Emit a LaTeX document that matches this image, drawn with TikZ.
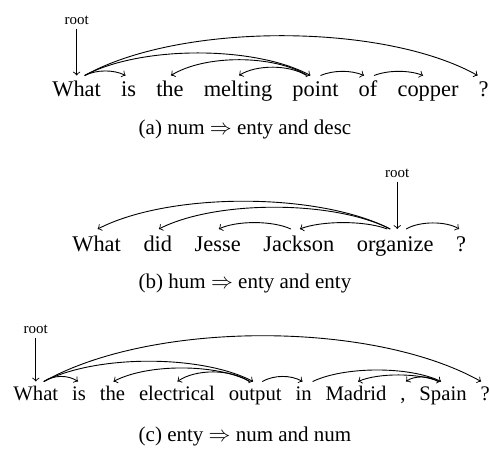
\documentclass[tikz,border=0pt]{standalone}
\usepackage{fontspec}
\setmainfont{Liberation Serif}
\begin{document}
\begin{tikzpicture}[x=0.5pt,y=-0.5pt,
  wa/.style={inner sep=0pt, anchor=base west, font=\fontsize{11.2}{13}\selectfont},
  wc/.style={inner sep=0pt, anchor=base west, font=\fontsize{10.35}{12}\selectfont},
  dep/.style={->, line width=0.45pt},
  rootlbl/.style={inner sep=0pt, anchor=base, font=\fontsize{7.5}{9}\selectfont},
  captxt/.style={inner sep=0pt, anchor=base, font=\fontsize{10.5}{12}\selectfont}]
\useasboundingbox (0,0) rectangle (490,450);

% ---------------- (a)
\node[wa] (a1) at (52,96.5) {What};
\node[wa] (a2) at ([xshift=9.7pt]a1.base east) {is};
\node[wa] (a3) at ([xshift=9.7pt]a2.base east) {the};
\node[wa] (a4) at ([xshift=9.7pt]a3.base east) {melting};
\node[wa] (a5) at ([xshift=9.7pt]a4.base east) {point};
\node[wa] (a6) at ([xshift=9.7pt]a5.base east) {of};
\node[wa] (a7) at ([xshift=9.7pt]a6.base east) {copper};
\node[wa] (a8) at ([xshift=9.7pt]a7.base east) {?};
\node[rootlbl] (ra) at ([shift={(0,-72.5)}]a1.base) {root};
\draw[dep] ([yshift=-2pt]ra.south) -- ([shift={(0,-21)}]a1.base);
\draw[dep] ([shift={(8,-21)}]a1.base) .. controls +(12,-6) and +(-12,-6) .. ([shift={(-3,-21)}]a2.base);
\draw[dep] ([shift={(8,-21)}]a1.base) .. controls +(56,-30) and +(-56,-30) .. ([shift={(-5,-21)}]a5.base);
\draw[dep] ([shift={(8,-21)}]a1.base) .. controls +(95,-53) and +(-95,-53) .. ([shift={(-6,-21)}]a8.base);
\draw[dep] ([shift={(-8,-21)}]a5.base) .. controls +(-34,-21) and +(34,-21) .. ([shift={(1,-21)}]a3.base);
\draw[dep] ([shift={(-9,-21)}]a5.base) .. controls +(-17,-11) and +(17,-11) .. ([shift={(1,-21)}]a4.base);
\draw[dep] ([shift={(5,-21)}]a5.base) .. controls +(13,-5.5) and +(-13,-5.5) .. ([shift={(-4,-21)}]a6.base);
\draw[dep] ([shift={(6,-21)}]a6.base) .. controls +(14,-5.5) and +(-14,-5.5) .. ([shift={(-5,-21)}]a7.base);
\node[captxt] (capa) at (245,134) {(a) num $\Rightarrow$ enty and desc};

% ---------------- (b)
\node[wa] (b1) at (72,251.5) {What};
\node[wa] (b2) at ([xshift=10.9pt]b1.base east) {did};
\node[wa] (b3) at ([xshift=10.9pt]b2.base east) {Jesse};
\node[wa] (b4) at ([xshift=10.9pt]b3.base east) {Jackson};
\node[wa] (b5) at ([xshift=10.9pt]b4.base east) {organize};
\node[wa] (b6) at ([xshift=10.9pt]b5.base east) {?};
\node[rootlbl] (rb) at ([shift={(2,-74.5)}]b5.base) {root};
\draw[dep] ([yshift=-2pt]rb.south) -- ([shift={(2,-22.5)}]b5.base);
\draw[dep] ([shift={(-5,-22.5)}]b5.base) .. controls +(-72,-37) and +(72,-37) .. ([shift={(1,-22.5)}]b1.base);
\draw[dep] ([shift={(-5,-22.5)}]b5.base) .. controls +(-57,-29) and +(57,-29) .. ([shift={(1,-22.5)}]b2.base);
\draw[dep] ([shift={(-8,-22.5)}]b4.base) .. controls +(-18,-8.5) and +(18,-8.5) .. ([shift={(1,-22.5)}]b3.base);
\draw[dep] ([shift={(-8,-22.5)}]b5.base) .. controls +(-22,-8.5) and +(22,-8.5) .. ([shift={(1,-22.5)}]b4.base);
\draw[dep] ([shift={(11,-22.5)}]b5.base) .. controls +(13,-8) and +(-13,-8) .. ([shift={(-2,-22.5)}]b6.base);
\node[captxt] (capb) at (245,288) {(b) hum $\Rightarrow$ enty and enty};

% ---------------- (c)
\node[wc] (c1) at (13,400.5) {What};
\node[wc] (c2) at ([xshift=6.55pt]c1.base east) {is};
\node[wc] (c3) at ([xshift=6.55pt]c2.base east) {the};
\node[wc] (c4) at ([xshift=6.55pt]c3.base east) {electrical};
\node[wc] (c5) at ([xshift=6.55pt]c4.base east) {output};
\node[wc] (c6) at ([xshift=6.55pt]c5.base east) {in};
\node[wc] (c7) at ([xshift=6.55pt]c6.base east) {Madrid};
\node[wc] (c8) at ([xshift=6.55pt]c7.base east) {,};
\node[wc] (c9) at ([xshift=6.55pt]c8.base east) {Spain};
\node[wc] (c10) at ([xshift=6.55pt]c9.base east) {?};
\node[rootlbl] (rc) at ([shift={(0,-67.5)}]c1.base) {root};
\draw[dep] ([yshift=-2pt]rc.south) -- ([shift={(0,-19)}]c1.base);
\draw[dep] ([shift={(8,-19)}]c1.base) .. controls +(10,-6.7) and +(-10,-6.7) .. ([shift={(-1,-19)}]c2.base);
\draw[dep] ([shift={(8,-19)}]c1.base) .. controls +(52,-27) and +(-52,-27) .. ([shift={(-2,-19)}]c5.base);
\draw[dep] ([shift={(8,-19)}]c1.base) .. controls +(109,-61) and +(-109,-61) .. ([shift={(-4,-19)}]c10.base);
\draw[dep] ([shift={(-5,-19)}]c5.base) .. controls +(-34,-18) and +(34,-18) .. ([shift={(1,-19)}]c3.base);
\draw[dep] ([shift={(-6,-19)}]c5.base) .. controls +(-18,-12.7) and +(18,-12.7) .. ([shift={(0.5,-19)}]c4.base);
\draw[dep] ([shift={(7,-19)}]c5.base) .. controls +(12,-6.7) and +(-12,-6.7) .. ([shift={(-1,-19)}]c6.base);
\draw[dep] ([shift={(9,-19)}]c6.base) .. controls +(32,-15.3) and +(-32,-15.3) .. ([shift={(-2,-19)}]c9.base);
\draw[dep] ([shift={(-4,-19)}]c9.base) .. controls +(-20,-8.7) and +(20,-8.7) .. ([shift={(2,-19)}]c7.base);
\draw[dep] ([shift={(-5,-19)}]c9.base) .. controls +(-8,-6) and +(8,-6) .. ([shift={(3,-19)}]c8.base);
\node[captxt] (capc) at (245,441) {(c) enty $\Rightarrow$ num and num};
\end{tikzpicture}
\end{document}
